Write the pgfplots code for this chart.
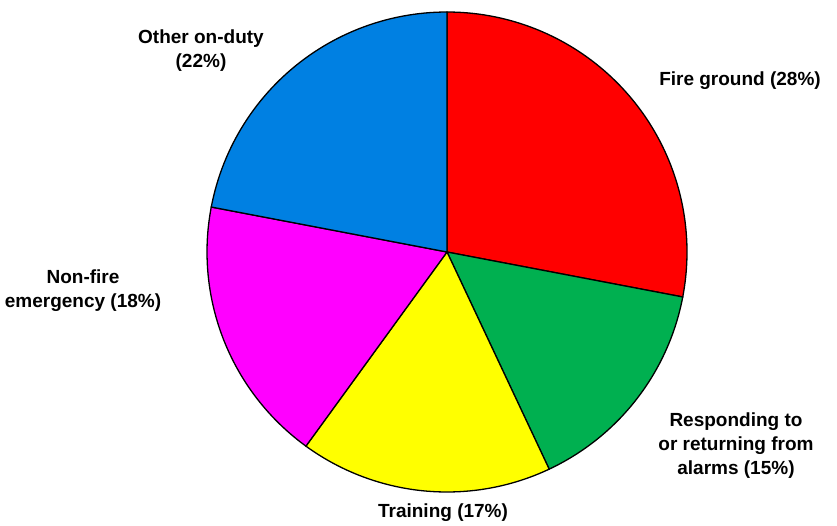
\documentclass[border=0pt]{standalone}
\usepackage{pgfplots}
\pgfplotsset{compat=1.18}
\usepackage{fontspec}
\setmainfont{Liberation Sans}
\definecolor{sFire}{RGB}{255,0,0}
\definecolor{sResp}{RGB}{0,176,80}
\definecolor{sTrain}{RGB}{255,255,0}
\definecolor{sNon}{RGB}{255,0,255}
\definecolor{sOther}{RGB}{0,128,226}
% shares (%): Fire ground 28, Responding 15, Training 17, Non-fire 18, Other 22
\tikzset{lab/.style={font=\fontsize{19}{24}\selectfont\bfseries, align=center, inner sep=0pt}}
\begin{document}
\begin{tikzpicture}
\begin{axis}[
  width=837pt, height=525pt, scale only axis,
  xmin=0, xmax=837, ymin=0, ymax=525,
  hide axis, clip=false,
]
\addplot[fill=sFire, draw=black, line width=1.3pt, domain={90-3.6*28}:{90}, samples=80, variable=\t]
  ({447+240*cos(\t)}, {273+240*sin(\t)}) -- (axis cs:447,273) -- cycle;
\addplot[fill=sResp, draw=black, line width=1.3pt, domain={90-3.6*(28+15)}:{90-3.6*28}, samples=60, variable=\t]
  ({447+240*cos(\t)}, {273+240*sin(\t)}) -- (axis cs:447,273) -- cycle;
\addplot[fill=sTrain, draw=black, line width=1.3pt, domain={90-3.6*(28+15+17)}:{90-3.6*(28+15)}, samples=60, variable=\t]
  ({447+240*cos(\t)}, {273+240*sin(\t)}) -- (axis cs:447,273) -- cycle;
\addplot[fill=sNon, draw=black, line width=1.3pt, domain={90-3.6*(28+15+17+18)}:{90-3.6*(28+15+17)}, samples=60, variable=\t]
  ({447+240*cos(\t)}, {273+240*sin(\t)}) -- (axis cs:447,273) -- cycle;
\addplot[fill=sOther, draw=black, line width=1.3pt, domain={90-3.6*100}:{90-3.6*(28+15+17+18)}, samples=60, variable=\t]
  ({447+240*cos(\t)}, {273+240*sin(\t)}) -- (axis cs:447,273) -- cycle;
\node[lab] at (axis cs:740,444) {Fire ground (28\%)};
\node[lab] at (axis cs:201,474) {Other on-duty\\(22\%)};
\node[lab] at (axis cs:83,234) {Non-fire\\emergency (18\%)};
\node[lab] at (axis cs:736,79) {Responding to\\or returning from\\alarms (15\%)};
\node[lab] at (axis cs:443,12) {Training (17\%)};
\end{axis}
\pgfresetboundingbox
\path (current axis.south west) rectangle (current axis.north east);
\end{tikzpicture}
\end{document}
